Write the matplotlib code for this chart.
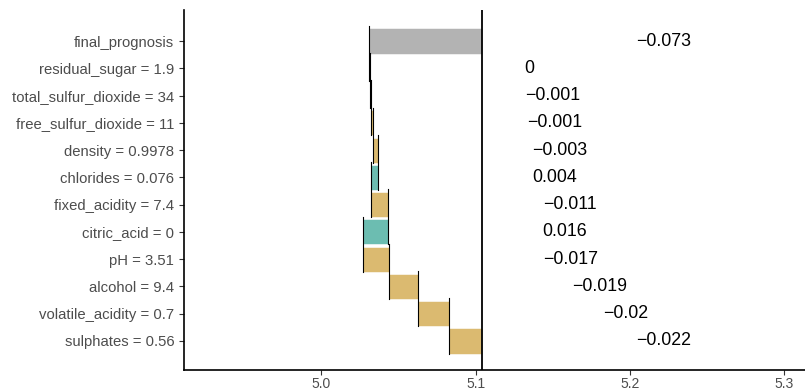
import numpy as np
import matplotlib
matplotlib.use('Agg')
import matplotlib.pyplot as plt

# break-down contributions, from the bottom row (first variable) upwards
variables = ['sulphates = 0.56', 'volatile_acidity = 0.7', 'alcohol = 9.4', 'pH = 3.51',
             'citric_acid = 0', 'fixed_acidity = 7.4', 'chlorides = 0.076',
             'density = 0.9978', 'free_sulfur_dioxide = 11', 'total_sulfur_dioxide = 34',
             'residual_sugar = 1.9']
contributions = [-0.0215, -0.0197, -0.0189, -0.0167, 0.0163, -0.0112, 0.0042,
                 -0.0030, -0.0012, -0.0010, -0.0004]
contribution_labels = ['\u22120.022', '\u22120.02', '\u22120.019', '\u22120.017', '0.016',
                       '\u22120.011', '0.004', '\u22120.003', '\u22120.001', '\u22120.001', '0']
intercept = 5.104
final_label = '\u22120.073'

plt.rcParams['font.family'] = ['Liberation Sans', 'DejaVu Sans']

fig = plt.figure(figsize=(8.05, 3.91), dpi=100)
ax = fig.add_axes([184 / 805, 21 / 391, 621 / 805, 360 / 391])

bar_h = 0.92
starts = intercept + np.concatenate([[0], np.cumsum(contributions)[:-1]])
ends = intercept + np.cumsum(contributions)
prediction = ends[-1]

rows = np.arange(1, len(variables) + 1)
for y, s, e, c in zip(rows, starts, ends, contributions):
    col = '#6cbdb1' if c > 0 else '#dbba70'
    ax.barh(y, e - s, left=s, height=bar_h, color=col, edgecolor='white', linewidth=0.4, zorder=2)

top = len(variables) + 1
ax.barh(top, prediction - intercept, left=intercept, height=bar_h, color='#b3b3b3',
        edgecolor='white', linewidth=0.4, zorder=2)

# connectors between consecutive bars
for i in range(len(variables)):
    ax.plot([ends[i], ends[i]], [rows[i] - bar_h / 2, rows[i] + 1 + bar_h / 2 + 0.1],
            color='black', lw=0.8, zorder=3)

ax.axvline(intercept, color='black', lw=1.3, zorder=4)

# value labels
for y, s, e, lab in zip(rows, starts, ends, contribution_labels):
    ax.text(max(s, e) + 0.1, y, lab, ha='left', va='center', fontsize=12.8, color='black')
ax.text(intercept + 0.1, top, final_label, ha='left', va='center', fontsize=12.8, color='black')

ax.set_yticks(list(rows) + [top])
ax.set_yticklabels(variables + ['final_prognosis'])
ax.set_xticks([5.0, 5.1, 5.2, 5.3])
ax.set_xticklabels(['5.0', '5.1', '5.2', '5.3'])
ax.tick_params(axis='both', colors='#333333', labelcolor='#4d4d4d', labelsize=10.7,
               length=3.5, width=0.8)
ax.tick_params(axis='x', pad=1.5, labelsize=10)
ax.set_xlim(4.911, 5.3136)
ax.set_ylim(1 - 29 / 27.27, top + 31 / 27.27)

for side in ['top', 'right']:
    ax.spines[side].set_visible(False)
for side in ['left', 'bottom']:
    ax.spines[side].set_linewidth(1.2)
    ax.spines[side].set_color('black')

fig.savefig('out.png', dpi=100)
